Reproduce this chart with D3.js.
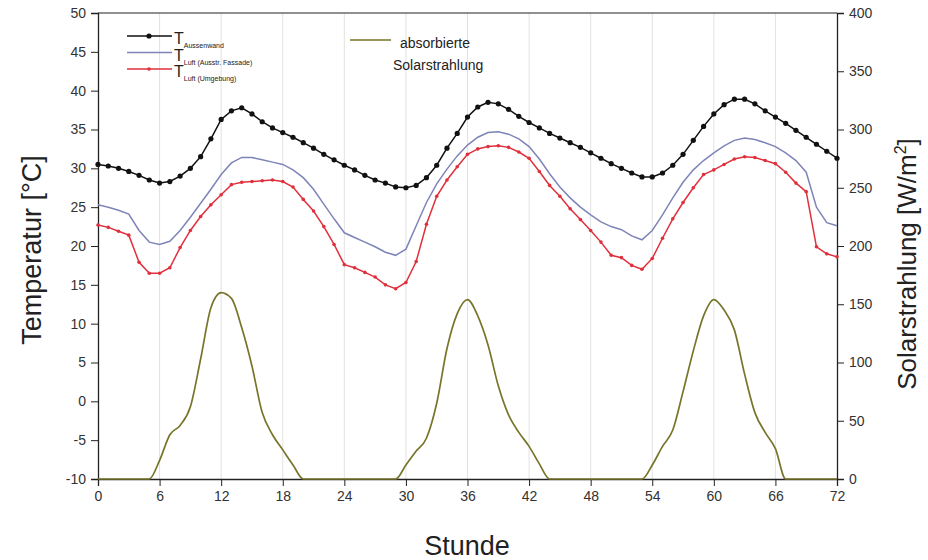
<!DOCTYPE html>
<html>
<head>
<meta charset="utf-8">
<script src="https://cdn.jsdelivr.net/npm/d3@7"></script>
<style>
  body { margin: 0; background: #fff; }
  svg { font-family: "Liberation Sans", Arial, sans-serif; }
  .axis text { font-size: 14px; fill: #333; }
  .axis path, .axis line { stroke: #222; }
</style>
</head>
<body>
<svg id="chart" width="928" height="560"></svg>
<script>
// hours 0..72
const hours = d3.range(0, 73);

const tAussenwand = [
  30.5, 30.3, 30.0, 29.6, 29.1, 28.5, 28.1, 28.3, 29.0, 30.0, 31.5, 33.8, 36.3, 37.4, 37.8, 37.0, 36.0, 35.2, 34.6, 34.0,
  33.3, 32.6, 31.8, 31.1, 30.4, 29.8, 29.1, 28.5, 28.1, 27.6, 27.5, 27.8, 28.8, 30.4, 32.6, 34.5, 36.6, 37.9, 38.5, 38.3,
  37.6, 36.7, 35.9, 35.2, 34.5, 33.9, 33.3, 32.7, 32.0, 31.3, 30.6, 30.0, 29.4, 28.9, 28.9, 29.4, 30.4, 31.8, 33.6, 35.4,
  37.0, 38.2, 38.9, 38.9, 38.3, 37.4, 36.6, 35.8, 34.9, 34.0, 33.1, 32.2, 31.3
];

const tLuftFassade = [
  25.3, 25.0, 24.6, 24.1, 22.0, 20.5, 20.2, 20.6, 22.0, 23.7, 25.5, 27.3, 29.2, 30.7, 31.4, 31.4, 31.1, 30.8, 30.5, 29.8,
  28.8, 27.3, 25.4, 23.5, 21.7, 21.1, 20.5, 19.9, 19.2, 18.8, 19.6, 22.6, 25.6, 28.0, 29.9, 31.6, 33.0, 34.0, 34.6, 34.7,
  34.4, 33.8, 32.8, 31.2, 29.3, 27.6, 26.2, 25.0, 24.0, 23.1, 22.5, 22.1, 21.3, 20.8, 22.0, 24.0, 26.2, 28.2, 29.8, 31.0,
  32.0, 32.9, 33.6, 33.9, 33.7, 33.3, 32.8, 32.0, 31.0, 29.5, 25.0, 23.0, 22.6
];

const tLuftUmgebung = [
  22.7, 22.4, 21.9, 21.4, 17.9, 16.5, 16.5, 17.2, 19.8, 22.0, 23.8, 25.3, 26.6, 27.9, 28.2, 28.3, 28.4, 28.5, 28.3, 27.6,
  26.0, 24.5, 22.5, 20.2, 17.6, 17.2, 16.6, 16.0, 15.0, 14.5, 15.3, 18.0, 22.8, 26.4, 28.5, 30.2, 31.8, 32.5, 32.8, 32.9,
  32.7, 32.1, 31.3, 29.6, 27.8, 26.4, 24.8, 23.4, 22.0, 20.5, 18.8, 18.5, 17.5, 17.0, 18.4, 21.0, 23.5, 25.6, 27.5, 29.2,
  29.8, 30.5, 31.2, 31.5, 31.4, 31.0, 30.6, 29.5, 28.1, 27.0, 19.9, 19.0, 18.6
];

// absorbierte Solarstrahlung [W/m2]
const solar = [
  0, 0, 0, 0, 0, 0, 16, 38, 46, 62, 103, 147, 160, 155, 130, 97, 57, 38, 25, 12,
  0, 0, 0, 0, 0, 0, 0, 0, 0, 0, 12, 24, 35, 65, 112, 142, 154, 140, 115, 80,
  55, 40, 28, 13, 0, 0, 0, 0, 0, 0, 0, 0, 0, 0, 12, 28, 42, 75, 110, 140,
  154, 145, 128, 90, 57, 40, 26, 0, 0, 0, 0, 0, 0
];

const xTicks = d3.range(0, 73, 6);
const yTicks = d3.range(-10, 51, 5);
const yRightTicks = d3.range(0, 401, 50);

const legendTemp = [
  { main: "T", sub: "Aussenwand", color: "#111", data: tAussenwand, marker: 2.6 },
  { main: "T", sub: "Luft (Ausstr. Fassade)", color: "#7f84b8", data: tLuftFassade, marker: 0 },
  { main: "T", sub: "Luft (Umgebung)", color: "#e0303c", data: tLuftUmgebung, marker: 1.8 }
];

const svg = d3.select("#chart");
const plotLeft = 98, plotRight = 837, plotTop = 13, plotBottom = 479;

const x = d3.scaleLinear().domain([0, 72]).range([plotLeft, plotRight]);
const y = d3.scaleLinear().domain([-10, 50]).range([plotBottom, plotTop]);
const yR = d3.scaleLinear().domain([0, 400]).range([plotBottom, plotTop]);

// vertical grid
svg.append("g")
  .selectAll("line")
  .data(xTicks.slice(1, -1))
  .join("line")
  .attr("x1", d => x(d)).attr("x2", d => x(d))
  .attr("y1", plotTop).attr("y2", plotBottom)
  .attr("stroke", "#e2e2e2")
  .attr("stroke-width", 1);

// top frame line
svg.append("line")
  .attr("x1", plotLeft).attr("x2", plotRight)
  .attr("y1", plotTop).attr("y2", plotTop)
  .attr("stroke", "#222");

// axes (plain hyphen for negatives, like the original)
const plain = d => String(d);

const gx = svg.append("g").attr("class", "axis").attr("transform", `translate(0,${plotBottom})`);
gx.call(d3.axisBottom(x).tickValues(d3.range(0, 73, 3)).tickSize(3).tickFormat(""));
gx.call(d3.axisBottom(x).tickValues(xTicks).tickSize(7).tickPadding(5).tickFormat(plain));

const gy = svg.append("g").attr("class", "axis").attr("transform", `translate(${plotLeft},0)`);
gy.call(d3.axisLeft(y).tickValues(d3.range(-10, 50.1, 2.5)).tickSize(3).tickFormat(""));
gy.call(d3.axisLeft(y).tickValues(yTicks).tickSize(7).tickPadding(5).tickFormat(plain));

const gyr = svg.append("g").attr("class", "axis").attr("transform", `translate(${plotRight},0)`);
gyr.call(d3.axisRight(yR).tickValues(d3.range(0, 400.1, 25)).tickSize(3).tickFormat(""));
gyr.call(d3.axisRight(yR).tickValues(yRightTicks).tickSize(7).tickPadding(5).tickFormat(plain));

svg.selectAll(".axis .domain").attr("stroke-width", 1.3);

// solar line
const solarLine = d3.line()
  .x((d, i) => x(hours[i]))
  .y(d => yR(d))
  .curve(d3.curveMonotoneX);

svg.append("path")
  .datum(solar)
  .attr("d", solarLine)
  .attr("fill", "none")
  .attr("stroke", "#77752a")
  .attr("stroke-width", 1.7);

// temperature lines
const tempLine = d3.line()
  .x((d, i) => x(hours[i]))
  .y(d => y(d));

legendTemp.forEach(s => {
  svg.append("path")
    .datum(s.data)
    .attr("d", tempLine)
    .attr("fill", "none")
    .attr("stroke", s.color)
    .attr("stroke-width", 1.5);
  if (s.marker > 0) {
    svg.append("g")
      .selectAll("circle")
      .data(s.data)
      .join("circle")
      .attr("cx", (d, i) => x(hours[i]))
      .attr("cy", d => y(d))
      .attr("r", s.marker)
      .attr("fill", s.color);
  }
});

// legend
const lg = svg.append("g");
legendTemp.forEach((s, i) => {
  const ly = 36 + i * 16.5;
  lg.append("line")
    .attr("x1", 127).attr("x2", 172)
    .attr("y1", ly).attr("y2", ly)
    .attr("stroke", s.color).attr("stroke-width", 1.5);
  if (s.marker > 0) {
    lg.append("circle").attr("cx", 149).attr("cy", ly).attr("r", s.marker).attr("fill", s.color);
  }
  const t = lg.append("text")
    .attr("x", 174).attr("y", ly + 8)
    .attr("font-size", 16).attr("fill", "#222");
  t.append("tspan").text(s.main);
  t.append("tspan").attr("dy", 4).attr("font-size", 7).attr("fill", "#222").text(s.sub);
});

lg.append("line")
  .attr("x1", 350).attr("x2", 391)
  .attr("y1", 40).attr("y2", 40)
  .attr("stroke", "#77752a").attr("stroke-width", 1.7);
lg.append("text").attr("x", 400).attr("y", 48)
  .attr("font-size", 14).attr("fill", "#222").text("absorbierte");
lg.append("text").attr("x", 393).attr("y", 70)
  .attr("font-size", 14).attr("fill", "#222").text("Solarstrahlung");

// axis titles
svg.append("text")
  .attr("transform", "translate(41,250) rotate(-90)")
  .attr("text-anchor", "middle")
  .attr("font-size", 27).attr("fill", "#222")
  .text("Temperatur [°C]");

svg.append("text")
  .attr("x", 467).attr("y", 555)
  .attr("text-anchor", "middle")
  .attr("font-size", 27).attr("fill", "#222")
  .text("Stunde");

const rt = svg.append("text")
  .attr("transform", "translate(916,264) rotate(-90)")
  .attr("text-anchor", "middle")
  .attr("font-size", 26).attr("fill", "#222");
rt.append("tspan").text("Solarstrahlung [W/m");
rt.append("tspan").attr("dy", -10).attr("font-size", 16).text("2");
rt.append("tspan").attr("dy", 10).text("]");
</script>
</body>
</html>
